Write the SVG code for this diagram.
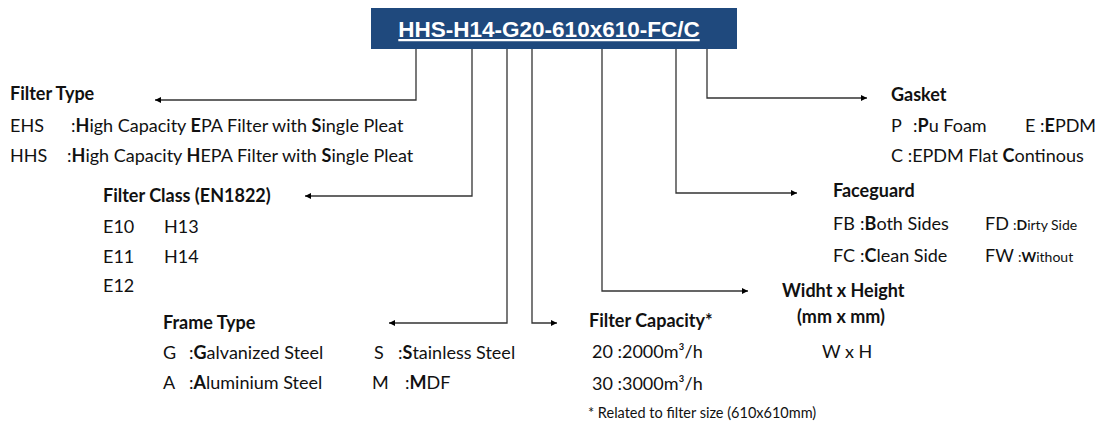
<svg xmlns="http://www.w3.org/2000/svg" width="1103" height="423" viewBox="0 0 1103 423">
<style>
.t{font-family:Lato,"Open Sans","Liberation Sans",sans-serif;font-size:18px;fill:#111}
.b{font-weight:bold}
.s{font-size:14px}
.xs{font-size:14.5px}
.title{font-family:"Liberation Sans",Arial,sans-serif;font-size:22.5px;font-weight:bold;fill:#fff;text-decoration:underline}
.c{fill:none;stroke:#333;stroke-width:1.3}
</style>
<defs>
<marker id="ah" viewBox="0 0 10 10" refX="10" refY="5" markerWidth="9" markerHeight="6" markerUnits="userSpaceOnUse" orient="auto">
<path d="M0,0 L10,5 L0,10 z" fill="#000"/>
</marker>
</defs>
<rect width="1103" height="423" fill="#fff"/>
<g id="title">
<rect x="371" y="8" width="366" height="41" fill="#1f497d"/>
<text class="title" x="549" y="37" text-anchor="middle">HHS-H14-G20-610x610-FC/C</text>
</g>
<g id="connectors">
<path class="c" d="M416,49 V100 H155" marker-end="url(#ah)"/>
<path class="c" d="M472,49 V196 H305" marker-end="url(#ah)"/>
<path class="c" d="M507,49 V323 H389" marker-end="url(#ah)"/>
<path class="c" d="M532,49 V323 H557" marker-end="url(#ah)"/>
<path class="c" d="M602,49 V291 H748" marker-end="url(#ah)"/>
<path class="c" d="M676,49 V193 H797" marker-end="url(#ah)"/>
<path class="c" d="M707,49 V98 H867" marker-end="url(#ah)"/>
</g>
<g id="filter-type">
<text class="t b" x="10" y="100">Filter Type</text>
<text class="t" x="10" y="132">EHS</text>
<text class="t" x="71" y="132">:<tspan class="b">H</tspan>igh Capacity <tspan class="b">E</tspan>PA Filter with <tspan class="b">S</tspan>ingle Pleat</text>
<text class="t" x="10" y="162">HHS</text>
<text class="t" x="67" y="162">:<tspan class="b">H</tspan>igh Capacity <tspan class="b">H</tspan>EPA Filter with <tspan class="b">S</tspan>ingle Pleat</text>
</g>
<g id="filter-class">
<text class="t b" x="103" y="202">Filter Class (EN1822)</text>
<text class="t" x="103" y="233">E10</text>
<text class="t" x="164" y="233">H13</text>
<text class="t" x="103" y="263">E11</text>
<text class="t" x="164" y="263">H14</text>
<text class="t" x="103" y="292">E12</text>
</g>
<g id="frame-type">
<text class="t b" x="163" y="329">Frame Type</text>
<text class="t" x="163" y="359">G</text>
<text class="t" x="189" y="359">:<tspan class="b">G</tspan>alvanized Steel</text>
<text class="t" x="374" y="359">S</text>
<text class="t" x="398" y="359">:<tspan class="b">S</tspan>tainless Steel</text>
<text class="t" x="163" y="389">A</text>
<text class="t" x="189" y="389">:<tspan class="b">A</tspan>luminium Steel</text>
<text class="t" x="372" y="389">M</text>
<text class="t" x="405" y="389">:<tspan class="b">M</tspan>DF</text>
</g>
<g id="filter-capacity">
<text class="t b" x="589" y="327">Filter Capacity*</text>
<text class="t" x="592" y="358">20 :2000m³/h</text>
<text class="t" x="592" y="390">30 :3000m³/h</text>
<text class="t xs" x="588" y="418">* Related to filter size (610x610mm)</text>
</g>
<g id="size">
<text class="t b" x="782" y="297">Widht x Height</text>
<text class="t b" x="797" y="323">(mm x mm)</text>
<text class="t" x="822" y="358">W x H</text>
</g>
<g id="faceguard">
<text class="t b" x="833" y="197">Faceguard</text>
<text class="t" x="833" y="230">FB</text>
<text class="t" x="860" y="230">:<tspan class="b">B</tspan>oth Sides</text>
<text class="t" x="985" y="230">FD</text>
<text class="t s" x="1013" y="230">:<tspan class="b">D</tspan>irty Side</text>
<text class="t" x="833" y="262">FC</text>
<text class="t" x="860" y="262">:<tspan class="b">C</tspan>lean Side</text>
<text class="t" x="985" y="262">FW</text>
<text class="t s" x="1018" y="262">:<tspan class="b">W</tspan>ithout</text>
</g>
<g id="gasket">
<text class="t b" x="891" y="101">Gasket</text>
<text class="t" x="891" y="132">P</text>
<text class="t" x="913" y="132">:<tspan class="b">P</tspan>u Foam</text>
<text class="t" x="1025" y="132">E</text>
<text class="t" x="1040" y="132">:<tspan class="b">E</tspan>PDM</text>
<text class="t" x="891" y="162">C :EPDM Flat <tspan class="b">C</tspan>ontinous</text>
</g>
</svg>
